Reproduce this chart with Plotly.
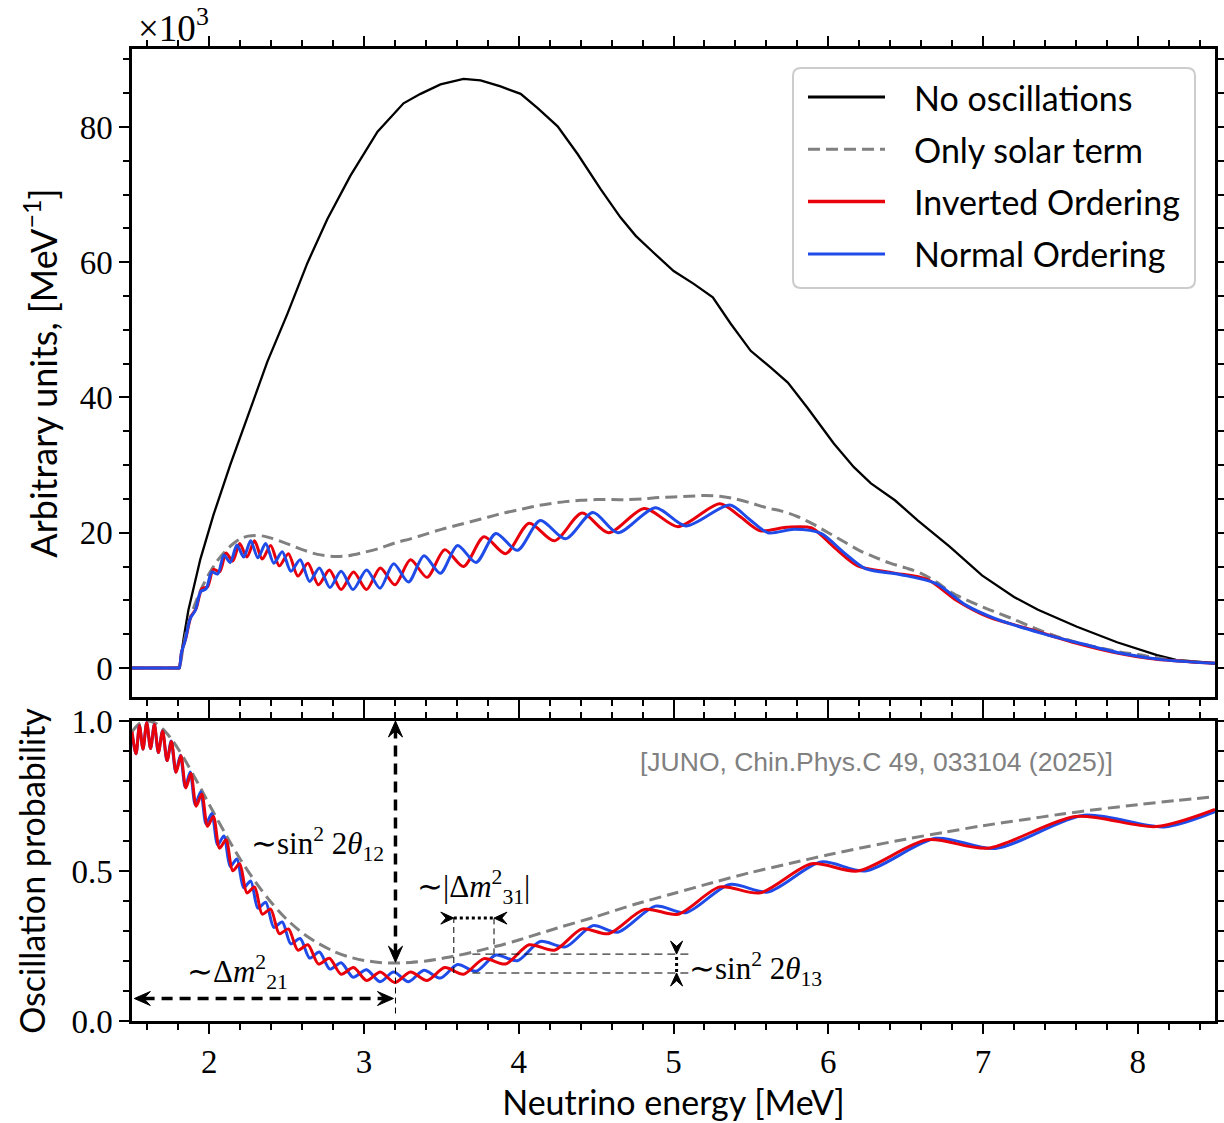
import plotly.graph_objects as go

# ---------------- data ----------------
# Top panel: spectra in units of 10^3 per MeV
E_nosc = [1.50, 1.806, 1.834, 1.864, 1.942, 2.026, 2.136, 2.246, 2.375, 2.505, 2.634, 2.763, 2.912,
          3.087, 3.255, 3.365, 3.494, 3.643, 3.753, 3.882, 4.012, 4.122, 4.251, 4.380, 4.529, 4.658,
          4.756, 4.872, 5.001, 5.131, 5.254, 5.370, 5.499, 5.629, 5.739, 5.868, 6.036, 6.166, 6.276,
          6.431, 6.580, 6.787, 6.994, 7.201, 7.356, 7.608, 7.867, 8.125, 8.248, 8.50]
nosc = [0, 0, 4.4, 8.5, 16.1, 22.6, 30.1, 37.2, 45.3, 52.4, 59.9, 66.4, 72.8,
        79.3, 83.5, 84.9, 86.3, 87.1, 86.9, 86.0, 84.9, 82.8, 80.1, 76.0, 70.8, 66.6,
        63.9, 61.4, 58.7, 56.8, 54.8, 50.9, 46.9, 44.4, 42.2, 38.4, 33.2, 29.7, 27.3,
        24.8, 21.8, 17.9, 13.7, 10.5, 8.6, 6.1, 3.8, 1.9, 1.2, 0.7]

E_sol_top = [1.50, 1.75, 1.80, 1.806, 1.83, 1.86, 1.90, 1.95, 2.00, 2.05, 2.10, 2.15, 2.20, 2.25, 2.30,
             2.35, 2.40, 2.50, 2.60, 2.70, 2.80, 2.90, 3.00, 3.10, 3.20, 3.30, 3.40, 3.50, 3.60, 3.70,
             3.80, 3.90, 4.00, 4.10, 4.20, 4.30, 4.40, 4.50, 4.60, 4.70, 4.80, 4.90, 5.00, 5.10, 5.20,
             5.30, 5.40, 5.50, 5.60, 5.70, 5.80, 5.90, 6.00, 6.10, 6.20, 6.30, 6.40, 6.50, 6.60, 6.70,
             6.80, 6.90, 7.00, 7.10, 7.20, 7.30, 7.40, 7.50, 7.60, 7.75, 7.90, 8.00, 8.125, 8.25, 8.50]
sol_top = [0, 0, 0, 0, 3.0, 6.2, 9.0, 11.8, 14.0, 15.8, 17.2, 18.3, 19.1, 19.5, 19.6,
           19.5, 19.2, 18.4, 17.5, 16.8, 16.5, 16.6, 17.1, 17.7, 18.5, 19.1, 19.8, 20.5, 21.1, 21.7,
           22.3, 22.9, 23.4, 23.9, 24.3, 24.6, 24.8, 24.9, 24.9, 24.9, 25.0, 25.2, 25.3, 25.4, 25.5,
           25.4, 25.0, 24.4, 23.7, 23.2, 22.4, 21.3, 20.0, 18.7, 17.4, 16.4, 15.5, 14.8, 14.0, 12.7,
           11.1, 10.0, 9.0, 8.1, 7.2, 6.2, 5.3, 4.5, 3.8, 3.0, 2.3, 2.0, 1.5, 1.1, 0.7]

io_top = [(1.50, 0), (1.75, 0), (1.80, 0), (1.806, 0), (1.82, 2.3), (1.848, 4.4), (1.881, 7.6),
          (1.915, 8.8), (1.951, 11.7),
          (1.988, 12.0), (2.026, 14.6), (2.066, 14.2), (2.108, 17.0), (2.151, 15.8), (2.196, 18.4),
          (2.243, 16.4), (2.292, 18.8), (2.342, 16.1), (2.396, 18.1), (2.452, 15.1), (2.511, 16.9),
          (2.572, 13.6), (2.637, 15.5), (2.705, 12.3), (2.776, 14.5), (2.851, 11.6), (2.932, 14.2),
          (3.016, 11.6), (3.105, 14.8), (3.199, 12.3), (3.300, 16.0), (3.407, 13.4), (3.521, 17.5),
          (3.643, 15.0), (3.775, 19.4), (3.915, 16.9), (4.067, 21.4), (4.230, 18.8), (4.409, 22.9),
          (4.58, 20.0), (4.812, 23.6), (5.03, 20.9), (5.299, 24.3), (5.43, 22.4), (5.56, 20.3),
          (5.73, 20.8), (5.893, 20.7), (6.04, 17.8), (6.19, 15.1), (6.41, 14.1), (6.64, 13.1),
          (6.83, 10.0), (7.03, 7.6), (7.31, 5.7), (7.599, 3.7), (7.85, 2.3), (8.12, 1.3), (8.50, 0.7)]

no_top = [(1.50, 0), (1.75, 0), (1.80, 0), (1.806, 0), (1.82, 2.3), (1.844, 4.1), (1.876, 7.3),
          (1.909, 8.5), (1.944, 11.3),
          (1.979, 11.7), (2.016, 14.2), (2.054, 13.9), (2.094, 16.7), (2.135, 15.6), (2.178, 18.2),
          (2.222, 16.4), (2.267, 18.8), (2.314, 16.3), (2.364, 18.4), (2.417, 15.5), (2.471, 17.2),
          (2.527, 14.3), (2.587, 16.0), (2.648, 12.8), (2.711, 14.8), (2.779, 11.9), (2.852, 14.3),
          (2.929, 11.6), (3.016, 14.5), (3.103, 11.8), (3.191, 15.4), (3.287, 12.7), (3.387, 16.6),
          (3.493, 14.0), (3.604, 18.1), (3.724, 15.6), (3.852, 19.9), (3.991, 17.4), (4.139, 21.8),
          (4.302, 19.1), (4.479, 23.0), (4.64, 20.0), (4.883, 23.7), (5.08, 21.0), (5.363, 24.1),
          (5.49, 22.0), (5.61, 20.0), (5.78, 20.5), (5.953, 19.9), (6.10, 17.1), (6.24, 14.7),
          (6.47, 13.8), (6.695, 12.5), (6.89, 9.3), (7.08, 7.3), (7.37, 5.2), (7.654, 3.5),
          (7.91, 2.1), (8.17, 1.2), (8.50, 0.7)]

# Bottom panel: survival probability
E_sol_p = [1.50, 1.55, 1.60, 1.65, 1.70, 1.75, 1.80, 1.85, 1.90, 1.95, 2.00, 2.10, 2.20, 2.30, 2.40,
           2.50, 2.60, 2.70, 2.80, 2.90, 3.00, 3.10, 3.20, 3.30, 3.40, 3.50, 3.60, 3.70, 3.80, 3.90,
           4.00, 4.25, 4.50, 4.75, 5.00, 5.25, 5.50, 5.75, 6.00, 6.25, 6.50, 6.75, 7.00, 7.25, 7.50,
           7.75, 8.00, 8.25, 8.50]
sol_p = [0.965, 0.992, 1.000, 0.993, 0.973, 0.943, 0.906, 0.863, 0.817, 0.770, 0.721, 0.627, 0.539,
         0.462, 0.395, 0.339, 0.294, 0.260, 0.233, 0.214, 0.202, 0.195, 0.193, 0.195, 0.200, 0.208,
         0.218, 0.229, 0.242, 0.255, 0.270, 0.310, 0.348, 0.389, 0.425, 0.461, 0.495, 0.525, 0.554,
         0.581, 0.606, 0.629, 0.651, 0.670, 0.689, 0.706, 0.721, 0.735, 0.748]

io_p = [(1.50, 0.965), (1.526, 0.891), (1.548, 0.985), (1.571, 0.906), (1.595, 0.994), (1.620, 0.908),
        (1.645, 0.988), (1.671, 0.895), (1.698, 0.967), (1.727, 0.868), (1.755, 0.932), (1.785, 0.829),
        (1.816, 0.884), (1.848, 0.777), (1.881, 0.825), (1.915, 0.716), (1.951, 0.757), (1.988, 0.649),
        (2.026, 0.682), (2.066, 0.576), (2.108, 0.604), (2.151, 0.501), (2.196, 0.524), (2.243, 0.427),
        (2.292, 0.447), (2.342, 0.356), (2.396, 0.373), (2.452, 0.291), (2.511, 0.307), (2.572, 0.236),
        (2.637, 0.254), (2.705, 0.190), (2.776, 0.209), (2.851, 0.156), (2.932, 0.178), (3.016, 0.135),
        (3.105, 0.163), (3.199, 0.128), (3.300, 0.163), (3.407, 0.135), (3.521, 0.178), (3.643, 0.156),
        (3.775, 0.208), (3.915, 0.190), (4.067, 0.254), (4.230, 0.236), (4.409, 0.307), (4.58, 0.291),
        (4.812, 0.372), (5.03, 0.356), (5.299, 0.447), (5.56, 0.427), (5.893, 0.524), (6.19, 0.500),
        (6.640, 0.604), (7.03, 0.576), (7.599, 0.682), (8.12, 0.648), (8.50, 0.705)]

no_p = [(1.50, 0.955), (1.526, 0.891), (1.548, 0.985), (1.571, 0.906), (1.595, 0.994), (1.620, 0.908),
        (1.644, 0.988), (1.670, 0.895), (1.697, 0.967), (1.726, 0.868), (1.753, 0.933), (1.783, 0.830),
        (1.813, 0.886), (1.844, 0.780), (1.876, 0.830), (1.909, 0.721), (1.944, 0.764), (1.979, 0.657),
        (2.016, 0.692), (2.054, 0.587), (2.094, 0.617), (2.135, 0.515), (2.178, 0.540), (2.222, 0.444),
        (2.267, 0.467), (2.314, 0.376), (2.364, 0.396), (2.417, 0.312), (2.471, 0.330), (2.527, 0.257),
        (2.587, 0.275), (2.648, 0.210), (2.711, 0.230), (2.779, 0.173), (2.852, 0.194), (2.929, 0.146),
        (3.016, 0.171), (3.103, 0.131), (3.191, 0.163), (3.287, 0.131), (3.387, 0.169), (3.493, 0.143),
        (3.604, 0.188), (3.724, 0.166), (3.852, 0.220), (3.991, 0.201), (4.139, 0.265), (4.302, 0.247),
        (4.479, 0.318), (4.64, 0.296), (4.883, 0.383), (5.08, 0.361), (5.363, 0.455), (5.61, 0.430),
        (5.953, 0.530), (6.24, 0.500), (6.695, 0.609), (7.08, 0.575), (7.654, 0.686), (8.17, 0.647),
        (8.50, 0.698)]

top_yticks = [0, 20, 40, 60, 80]
bot_yticks = [0.0, 0.5, 1.0]
bot_yticklabels = ["0.0", "0.5", "1.0"]
series_names = ["No oscillations", "Only solar term", "Inverted Ordering", "Normal Ordering"]

# ---------------- styling ----------------
RED = "#e8000b"
BLUE = "#1f4be8"
GRAY = "#808080"
SERIF = "Liberation Serif"
SANS = "Lato"
SANS_SIZE = 34
TICK_SIZE = 33


def unzip(pairs):
    return [p[0] for p in pairs], [p[1] for p in pairs]


fig = go.Figure()

# top panel
fig.add_trace(go.Scatter(x=E_nosc, y=nosc, mode="lines", name=series_names[0], showlegend=False,
                         line=dict(color="black", width=2.3), xaxis="x2", yaxis="y2"))
fig.add_trace(go.Scatter(x=E_sol_top, y=sol_top, mode="lines", name=series_names[1], showlegend=False,
                         line=dict(color=GRAY, width=3, dash="12px,6px", shape="spline", smoothing=0.8),
                         xaxis="x2", yaxis="y2"))
ex, ey = unzip(io_top)
fig.add_trace(go.Scatter(x=ex, y=ey, mode="lines", name=series_names[2], showlegend=False,
                         line=dict(color=RED, width=3, shape="spline", smoothing=0.8), xaxis="x2", yaxis="y2"))
ex, ey = unzip(no_top)
fig.add_trace(go.Scatter(x=ex, y=ey, mode="lines", name=series_names[3], showlegend=False,
                         line=dict(color=BLUE, width=3, shape="spline", smoothing=0.8), xaxis="x2", yaxis="y2"))

# bottom panel
fig.add_trace(go.Scatter(x=E_sol_p, y=sol_p, mode="lines", name=series_names[1], showlegend=False,
                         line=dict(color=GRAY, width=3, dash="12px,6px", shape="spline", smoothing=0.8),
                         xaxis="x", yaxis="y"))
ex, ey = unzip(no_p)
fig.add_trace(go.Scatter(x=ex, y=ey, mode="lines", name=series_names[3], showlegend=False,
                         line=dict(color=BLUE, width=3, shape="spline", smoothing=0.8), xaxis="x", yaxis="y"))
ex, ey = unzip(io_p)
fig.add_trace(go.Scatter(x=ex, y=ey, mode="lines", name=series_names[2], showlegend=False,
                         line=dict(color=RED, width=3, shape="spline", smoothing=0.8), xaxis="x", yaxis="y"))

# ---------------- axes ----------------
W, H = 1224, 1123
L, R, T, B = 132, 9, 49, 102
PW, PH = W - L - R, H - T - B


def px_x(px):
    return (px - L) / PW


def px_y(py):
    return (H - B - py) / PH


common = dict(showline=True, linecolor="black", linewidth=2.5, mirror="ticks", ticks="outside",
              ticklen=10, tickwidth=2, tickcolor="black", showgrid=False, zeroline=False,
              automargin=False, tickfont=dict(family=SERIF, size=TICK_SIZE, color="black"))
minor_x = dict(tick0=0, dtick=0.2, ticks="outside", ticklen=6, tickwidth=1.5, tickcolor="black")

fig.update_layout(
    width=W, height=H, autosize=False, margin=dict(l=L, r=R, t=T, b=B, autoexpand=False),
    paper_bgcolor="white", plot_bgcolor="white",
    xaxis=dict(domain=[0, 1], anchor="y", range=[1.5, 8.5], tick0=0, dtick=1, minor=minor_x,
               title=dict(text="Neutrino energy [MeV]", font=dict(family=SANS, size=SANS_SIZE, color="black"),
                          standoff=12),
               **common),
    xaxis2=dict(domain=[0, 1], anchor="y2", range=[1.5, 8.5], matches="x", tick0=0, dtick=1,
                showticklabels=False, minor=minor_x, **common),
    yaxis=dict(domain=[0, px_y(721)], anchor="x", range=[0, 1], tickvals=bot_yticks,
               ticktext=bot_yticklabels,
               minor=dict(tick0=0, dtick=0.1, ticks="outside", ticklen=6, tickwidth=1.5, tickcolor="black"),
               title=dict(text="Oscillation probability", font=dict(family=SANS, size=SANS_SIZE, color="black"),
                          standoff=16),
               **common),
    yaxis2=dict(domain=[px_y(697), 1], anchor="x2", range=[-4.29, 91.53], tickvals=top_yticks,
                minor=dict(tick0=0, dtick=5, ticks="outside", ticklen=6, tickwidth=1.5, tickcolor="black"),
                title=dict(text="Arbitrary units, [MeV<sup>−1</sup>]",
                           font=dict(family=SANS, size=36, color="black"), standoff=12),
                **common),
)

shapes = []
annotations = []

# ---------------- custom legend ----------------
bx0, bx1, by0, by1 = px_x(793), px_x(1195), px_y(288), px_y(68)
rx, ry = 8 / PW, 8 / PH
box_path = (f"M {bx0+rx},{by1} L {bx1-rx},{by1} Q {bx1},{by1} {bx1},{by1-ry} "
            f"L {bx1},{by0+ry} Q {bx1},{by0} {bx1-rx},{by0} L {bx0+rx},{by0} "
            f"Q {bx0},{by0} {bx0},{by0+ry} L {bx0},{by1-ry} Q {bx0},{by1} {bx0+rx},{by1} Z")
shapes.append(dict(type="path", xref="paper", yref="paper", path=box_path,
                   line=dict(color="#cccccc", width=2), fillcolor="rgba(255,255,255,0.85)", layer="above"))
leg_styles = [dict(color="black", width=3), dict(color=GRAY, width=3, dash="12px,6px"),
              dict(color=RED, width=3.5), dict(color=BLUE, width=3)]
for i, (name, st) in enumerate(zip(series_names, leg_styles)):
    yy = px_y(97 + 52.3 * i)
    shapes.append(dict(type="line", xref="paper", yref="paper", x0=px_x(808), x1=px_x(885), y0=yy, y1=yy,
                       line=st, layer="above"))
    annotations.append(dict(xref="paper", yref="paper", x=px_x(912), y=yy, text=name, showarrow=False,
                            xanchor="left", yanchor="middle",
                            font=dict(family=SANS, size=SANS_SIZE, color="black")))

# ---------------- ×10^3 ----------------
annotations.append(dict(xref="paper", yref="paper", x=px_x(136), y=px_y(26), text="×10<sup>3</sup>",
                        showarrow=False, xanchor="left", yanchor="middle",
                        font=dict(family=SERIF, size=37, color="black")))

# ---------------- citation ----------------
annotations.append(dict(xref="x", yref="y", x=6.31, y=0.863,
                        text="[JUNO, Chin.Phys.C 49, 033104 (2025)]", showarrow=False,
                        font=dict(family="Liberation Sans", size=26.5, color=GRAY)))

# ---------------- physics annotations (bottom panel) ----------------
MF = dict(family=SERIF, size=31, color="black")
annotations += [
    dict(xref="x", yref="y", x=2.70, y=0.59, text="∼sin<sup>2</sup> 2<i>θ</i><sub>12</sub>",
         showarrow=False, font=MF),
    dict(xref="x", yref="y", x=3.71, y=0.447, text="∼|Δ<i>m</i><sup>2</sup><sub>31</sub>|",
         showarrow=False, font=MF),
    dict(xref="x", yref="y", x=2.18, y=0.165, text="∼Δ<i>m</i><sup>2</sup><sub>21</sub>",
         showarrow=False, font=MF),
    dict(xref="x", yref="y", x=5.09, y=0.175, text="∼sin<sup>2</sup> 2<i>θ</i><sub>13</sub>",
         showarrow=False, xanchor="left", font=MF),
]


def head(x, y, direction, ln=16, wd=7):
    """Filled stealth-style arrowhead, tip at data point (x, y), size in pixels."""
    n = 0.6 * ln
    pts = {
        "up": [(0, 0), (wd, -ln), (0, -n), (-wd, -ln)],
        "down": [(0, 0), (wd, ln), (0, n), (-wd, ln)],
        "left": [(0, 0), (ln, wd), (n, 0), (ln, -wd)],
        "right": [(0, 0), (-ln, wd), (-n, 0), (-ln, -wd)],
    }[direction]
    path = "M " + " L ".join(f"{a},{b}" for a, b in pts) + " Z"
    return dict(type="path", xref="x", yref="y", xsizemode="pixel", ysizemode="pixel",
                xanchor=x, yanchor=y, path=path, fillcolor="black", line=dict(color="black", width=1))


# vertical ~sin^2 2theta12 arrow
shapes.append(dict(type="line", xref="x", yref="y", x0=3.203, x1=3.203, y0=0.222, y1=0.975,
                   line=dict(color="black", width=3.5, dash="11px,7px")))
shapes += [head(3.203, 1.0, "up"), head(3.203, 0.196, "down")]
# thin dashed continuation
shapes.append(dict(type="line", xref="x", yref="y", x0=3.203, x1=3.203, y0=0.025, y1=0.19,
                   line=dict(color="black", width=1, dash="6px,4px")))
# horizontal ~dm21 arrow
shapes.append(dict(type="line", xref="x", yref="y", x0=1.575, x1=3.13, y0=0.075, y1=0.075,
                   line=dict(color="black", width=3.5, dash="11px,7px")))
shapes += [head(1.515, 0.075, "left"), head(3.19, 0.075, "right")]
# |dm31| marker
shapes.append(dict(type="line", xref="x", yref="y", x0=3.58, x1=3.84, y0=0.343, y1=0.343,
                   line=dict(color="black", width=3, dash="dot")))
shapes += [head(3.58, 0.343, "right", 13, 6), head(3.84, 0.343, "left", 13, 6)]
for xv, ylow in [(3.58, 0.16), (3.84, 0.222)]:
    shapes.append(dict(type="line", xref="x", yref="y", x0=xv, x1=xv, y0=ylow, y1=0.343,
                       line=dict(color="black", width=1, dash="6px,4px")))
# sin^2 2theta13 marker
for yv in [0.223, 0.16]:
    shapes.append(dict(type="line", xref="x", yref="y", x0=3.70, x1=5.10, y0=yv, y1=yv,
                       line=dict(color="black", width=1, dash="8px,5px")))
shapes.append(dict(type="line", xref="x", yref="y", x0=5.02, x1=5.02, y0=0.163, y1=0.22,
                   line=dict(color="black", width=3, dash="dot")))
shapes += [head(5.02, 0.223, "down", 13, 6), head(5.02, 0.16, "up", 13, 6)]

fig.update_layout(shapes=shapes, annotations=annotations)

fig.write_html(
    "out.html",
    config={"responsive": False, "displayModeBar": False},
    post_script="document.body.style.margin='0px';document.body.style.overflow='hidden';",
)
